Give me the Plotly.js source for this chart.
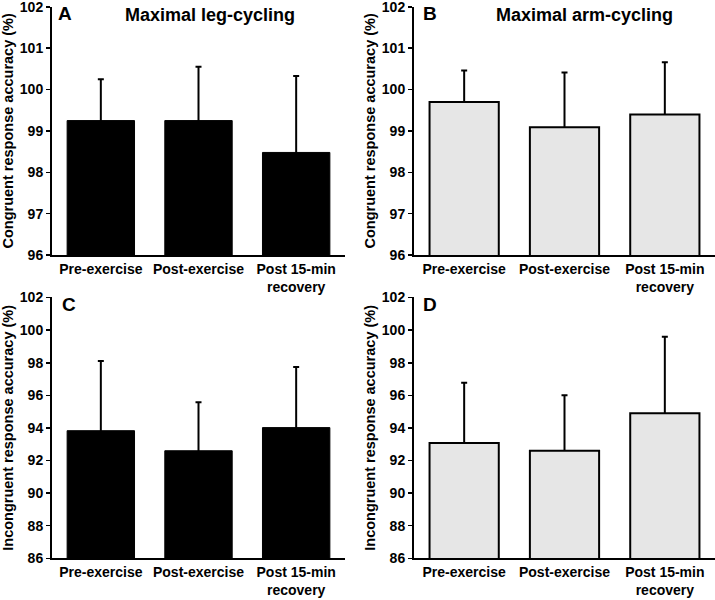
<!DOCTYPE html>
<html>
<head>
<meta charset="utf-8">
<script src="https://cdn.plot.ly/plotly-3.0.1.min.js"></script>
<style>html,body{margin:0;padding:0;background:#fff;}#chart{width:715px;height:600px;}</style>
</head>
<body>
<div id="chart"></div>
<script>
// Data
var categories = ["Pre-exercise", "Post-exercise", "Post 15-min<br>recovery"];
var legCongruent = [99.25, 99.25, 98.48];
var legCongruentSD = [1.00, 1.30, 1.85];
var armCongruent = [99.70, 99.09, 99.40];
var armCongruentSD = [0.76, 1.32, 1.26];
var legIncongruent = [93.83, 92.60, 94.02];
var legIncongruentSD = [4.27, 2.98, 3.72];
var armIncongruent = [93.07, 92.60, 94.90];
var armIncongruentSD = [3.71, 3.40, 4.70];

var panelTitles = ["Maximal leg-cycling", "Maximal arm-cycling"];
var panelLetters = ["A", "B", "C", "D"];
var congruentTitle = "Congruent response accuracy (%)";
var incongruentTitle = "Incongruent response accuracy (%)";

var FONT = "Liberation Sans, Arial, sans-serif";

// error bars drawn first (symmetric), then real bars on top hide the lower half
function errTrace(y, sd, xa, ya) {
  return {
    type: "bar",
    x: categories,
    y: y,
    xaxis: xa,
    yaxis: ya,
    marker: {color: "rgba(0,0,0,0)", line: {width: 0}},
    error_y: {
      type: "data",
      symmetric: true,
      array: sd,
      color: "#000000",
      thickness: 2,
      width: 3
    },
    hoverinfo: "none",
    showlegend: false
  };
}
function barTrace(y, xa, ya, grey) {
  return {
    type: "bar",
    x: categories,
    y: y,
    xaxis: xa,
    yaxis: ya,
    marker: {
      color: grey ? "#e6e6e6" : "#000000",
      line: {color: "#000000", width: grey ? 2 : 1}
    },
    hoverinfo: "none",
    showlegend: false
  };
}

var traces = [
  errTrace(legCongruent, legCongruentSD, "x", "y"),
  barTrace(legCongruent, "x", "y", false),
  errTrace(armCongruent, armCongruentSD, "x2", "y2"),
  barTrace(armCongruent, "x2", "y2", true),
  errTrace(legIncongruent, legIncongruentSD, "x3", "y3"),
  barTrace(legIncongruent, "x3", "y3", false),
  errTrace(armIncongruent, armIncongruentSD, "x4", "y4"),
  barTrace(armIncongruent, "x4", "y4", true)
];

function xAxis(domain, anchor) {
  return {
    domain: domain,
    anchor: anchor,
    showline: true,
    linecolor: "#000",
    linewidth: 2,
    ticks: "",
    showgrid: false,
    zeroline: false,
    tickfont: {family: FONT, size: 14, color: "#000", weight: "bold"},
    fixedrange: true
  };
}
function yAxis(domain, anchor, range, dtick, title) {
  return {
    domain: domain,
    anchor: anchor,
    range: range,
    dtick: dtick,
    tick0: 0,
    showline: true,
    linecolor: "#000",
    linewidth: 2,
    ticks: "outside",
    ticklen: 4,
    tickwidth: 1.5,
    tickcolor: "#000",
    ticklabeloverflow: "allow",
    showgrid: false,
    zeroline: false,
    tickfont: {family: FONT, size: 14, color: "#000", weight: "bold"},
    title: {text: title, font: {family: FONT, size: 14.5, color: "#000", weight: "bold"}, standoff: 3},
    fixedrange: true
  };
}

var xdA = [52/715, 345/715];
var xdB = [414/715, 1.0];
var ydTop = [1 - 255/600, 1 - 6.7/600];
var ydBot = [1 - 558.3/600, 1 - 297.4/600];

var layout = {
  width: 715,
  height: 600,
  margin: {l: 0, r: 0, t: 0, b: 0},
  paper_bgcolor: "#fff",
  plot_bgcolor: "rgba(0,0,0,0)",
  barmode: "overlay",
  bargap: 0.31,
  font: {family: FONT, color: "#000"},
  xaxis: xAxis(xdA, "y"),
  yaxis: yAxis(ydTop, "x", [96, 102.004], 1, congruentTitle),
  xaxis2: xAxis(xdB, "y2"),
  yaxis2: yAxis(ydTop, "x2", [96, 102.004], 1, congruentTitle),
  xaxis3: xAxis(xdA, "y3"),
  yaxis3: yAxis(ydBot, "x3", [86, 102.01], 2, incongruentTitle),
  xaxis4: xAxis(xdB, "y4"),
  yaxis4: yAxis(ydBot, "x4", [86, 102.01], 2, incongruentTitle),
  annotations: [
    {text: "<b>" + panelTitles[0] + "</b>", xref: "paper", yref: "paper", x: 210.5/715, y: 1 - 15/600, xanchor: "center", yanchor: "middle", showarrow: false, font: {family: FONT, size: 18, color: "#000"}},
    {text: "<b>" + panelTitles[1] + "</b>", xref: "paper", yref: "paper", x: 584.5/715, y: 1 - 15/600, xanchor: "center", yanchor: "middle", showarrow: false, font: {family: FONT, size: 18, color: "#000"}},
    {text: "<b>" + panelLetters[0] + "</b>", xref: "paper", yref: "paper", x: 56/715, y: 1 - 13.5/600, xanchor: "left", yanchor: "middle", showarrow: false, font: {family: FONT, size: 19, color: "#000"}},
    {text: "<b>" + panelLetters[1] + "</b>", xref: "paper", yref: "paper", x: 420.5/715, y: 1 - 13.5/600, xanchor: "left", yanchor: "middle", showarrow: false, font: {family: FONT, size: 19, color: "#000"}},
    {text: "<b>" + panelLetters[2] + "</b>", xref: "paper", yref: "paper", x: 59.5/715, y: 1 - 304.5/600, xanchor: "left", yanchor: "middle", showarrow: false, font: {family: FONT, size: 19, color: "#000"}},
    {text: "<b>" + panelLetters[3] + "</b>", xref: "paper", yref: "paper", x: 420.5/715, y: 1 - 304/600, xanchor: "left", yanchor: "middle", showarrow: false, font: {family: FONT, size: 19, color: "#000"}}
  ]
};

Plotly.newPlot("chart", traces, layout, {staticPlot: true, displayModeBar: false});
</script>
</body>
</html>
